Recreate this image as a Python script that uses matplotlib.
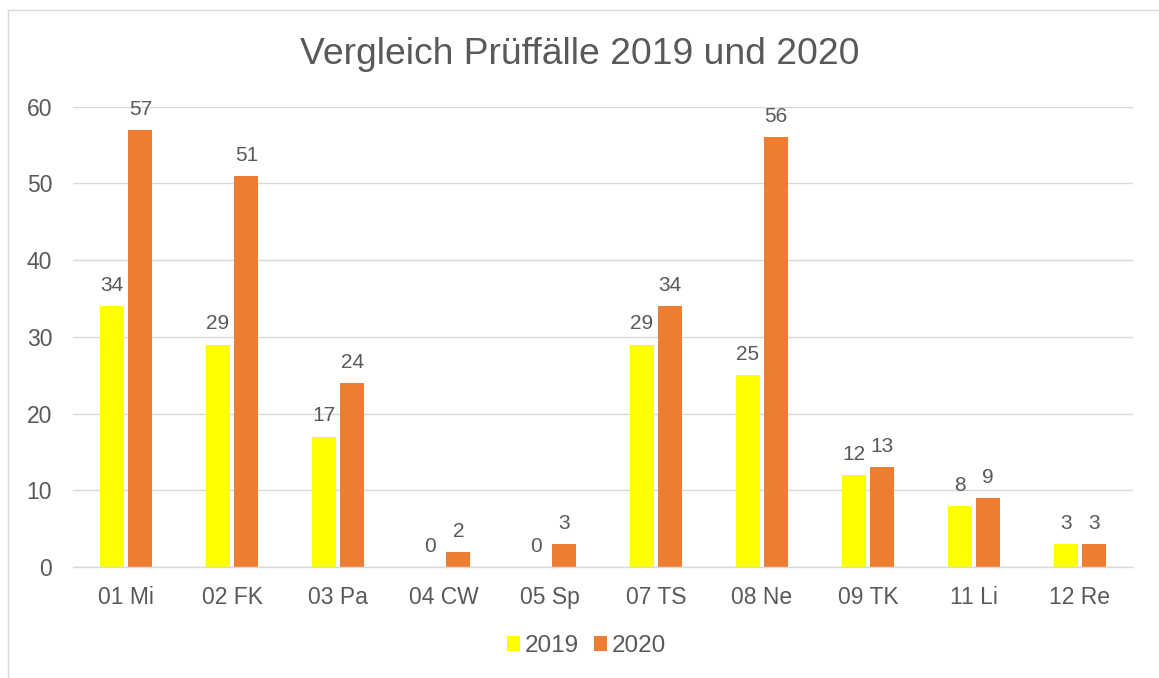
import matplotlib
matplotlib.use('Agg')
import matplotlib.pyplot as plt
from matplotlib.lines import Line2D
import numpy as np

plt.rcParams['font.family'] = ['Liberation Sans', 'DejaVu Sans']

# Daten
kategorien = ['01 Mi', '02 FK', '03 Pa', '04 CW', '05 Sp', '07 TS', '08 Ne', '09 TK', '11 Li', '12 Re']
werte_2019 = [34, 29, 17, 0, 0, 29, 25, 12, 8, 3]
werte_2020 = [57, 51, 24, 2, 3, 34, 56, 13, 9, 3]
y_ticks = [0, 10, 20, 30, 40, 50, 60]

grau = '#595959'
gelb = '#FFFF00'
orange = '#ED7D31'

fig = plt.figure(figsize=(11.59, 6.78), dpi=100)
ax = fig.add_axes([0.063, 0.1637, 0.9145, 0.6789])

x = np.arange(len(kategorien))
b = 0.226
off = 0.135
r1 = ax.bar(x - off, werte_2019, b, color=gelb, label='2019', zorder=3)
r2 = ax.bar(x + off, werte_2020, b, color=orange, label='2020', zorder=3)
ax.bar_label(r1, padding=8, fontsize=15, color=grau)
ax.bar_label(r2, padding=8, fontsize=15, color=grau)

ax.set_xlim(-0.5, len(kategorien) - 0.5)
ax.set_ylim(0, 60)
ax.set_yticks(y_ticks)
ax.set_xticks(x)
ax.set_xticklabels(kategorien)
ax.tick_params(axis='both', length=0, labelsize=16.5, labelcolor=grau)
ax.tick_params(axis='y', pad=15)
ax.tick_params(axis='x', pad=14)
ax.yaxis.grid(True, color='#D9D9D9', linewidth=1.0, zorder=0)
for s in ['top', 'right', 'left']:
    ax.spines[s].set_visible(False)
ax.spines['bottom'].set_color('#D9D9D9')
ax.spines['bottom'].set_linewidth(1.0)
ax.spines['bottom'].set_zorder(4)

fig.text(0.5, 1 - 54 / 678, 'Vergleich Prüffälle 2019 und 2020', ha='center', va='center',
         fontsize=26.8, color=grau)

leg = fig.legend(loc='center', bbox_to_anchor=(0.506, 1 - 646 / 678), ncol=2, frameon=False,
                 fontsize=17.5, handlelength=0.55, handleheight=0.55, handletextpad=0.2,
                 columnspacing=0.6, labelcolor=grau)

# Rahmen (oben und links)
fig.add_artist(Line2D([8 / 1159, 8 / 1159], [0, 1 - 10 / 678], color='#D9D9D9', linewidth=1.0))
fig.add_artist(Line2D([8 / 1159, 1], [1 - 10 / 678, 1 - 10 / 678], color='#D9D9D9', linewidth=1.0))

plt.savefig('out.png', dpi=100)
